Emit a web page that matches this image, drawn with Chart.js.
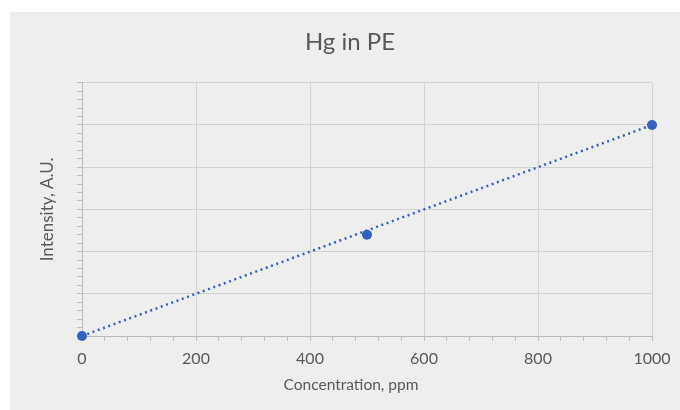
<!DOCTYPE html>
<html>
<head>
<meta charset="utf-8">
<script src="https://cdn.jsdelivr.net/npm/chart.js@4"></script>
<style>
  html, body { margin: 0; padding: 0; background: #ffffff; }
  #wrap { width: 680px; height: 410px; position: relative; }
</style>
</head>
<body>
<div id="wrap"><canvas id="c" width="680" height="410"></canvas></div>
<script>
// ---- data ----
const concentrations = [0, 500, 1000];
const intensities = [0, 2.4, 5.0];
const trendX = [0, 1000];
const trendY = [0, 5.0];
const xLabelValues = [0, 200, 400, 600, 800, 1000];
const titleText = 'Hg in PE';
const xTitle = 'Concentration, ppm';
const yTitle = 'Intensity, A.U.';

const gridColor = '#d2d2d2';
const axisColor = '#bcbcbc';
const textColor = '#595959';
const blue = '#3560c2';
const FONT = 'Lato, "Open Sans", sans-serif';

const bgPlugin = {
  id: 'bg',
  beforeDraw(chart) {
    const ctx = chart.ctx;
    ctx.save();
    ctx.fillStyle = '#eeeeee';
    ctx.fillRect(10, 12, 670, 398);
    ctx.restore();
  }
};

// x-axis title: centred on the chart box (as in the reference), not on the plot
const xTitlePlugin = {
  id: 'xTitle',
  afterDraw(chart) {
    const ctx = chart.ctx;
    ctx.save();
    ctx.fillStyle = textColor;
    ctx.font = '15.5px ' + FONT;
    ctx.textAlign = 'center';
    ctx.textBaseline = 'middle';
    ctx.fillText(xTitle, (chart.width + 22) / 2, 385);
    ctx.restore();
  }
};

const isMultiple = (v, step) => Math.abs(v / step - Math.round(v / step)) < 1e-6;

new Chart(document.getElementById('c'), {
  type: 'scatter',
  data: {
    datasets: [
      {
        label: 'Trend',
        data: trendX.map((x, i) => ({ x: x, y: trendY[i] })),
        showLine: true,
        borderColor: blue,
        borderWidth: 2.5,
        borderDash: [2, 3.6],
        borderCapStyle: 'butt',
        pointRadius: 0,
        pointHoverRadius: 0,
        fill: false,
        clip: false
      },
      {
        label: 'Hg',
        data: concentrations.map((x, i) => ({ x: x, y: intensities[i] })),
        backgroundColor: blue,
        borderColor: blue,
        pointRadius: 5,
        pointBorderWidth: 0,
        clip: false
      }
    ]
  },
  options: {
    responsive: false,
    animation: false,
    events: [],
    layout: { padding: { left: 20, right: 0, top: 0, bottom: 0 } },
    plugins: {
      legend: { display: false },
      tooltip: { enabled: false },
      title: {
        display: true,
        text: titleText,
        color: textColor,
        font: { family: FONT, size: 24, weight: 'normal' },
        padding: { top: 28, bottom: 26 }
      }
    },
    scales: {
      x: {
        type: 'linear',
        min: 0, max: 1000,
        border: { color: axisColor, width: 1 },
        grid: {
          color: (ctx) => (ctx.tick && isMultiple(ctx.tick.value, 200)) ? gridColor : 'rgba(0,0,0,0)',
          tickColor: axisColor,
          tickLength: 5,
          lineWidth: 1
        },
        ticks: {
          stepSize: 40,
          autoSkip: false,
          maxRotation: 0,
          minRotation: 0,
          padding: 8,
          color: textColor,
          font: { family: FONT, size: 16 },
          callback: (v) => xLabelValues.some(t => Math.abs(t - v) < 1e-6) ? String(Math.round(v)) : ''
        },
        title: { display: false },
        afterFit: (scale) => { scale.height = 74; }
      },
      y: {
        type: 'linear',
        min: 0, max: 6,
        border: { color: axisColor, width: 1 },
        grid: {
          color: (ctx) => (ctx.tick && isMultiple(ctx.tick.value, 1)) ? gridColor : 'rgba(0,0,0,0)',
          tickColor: axisColor,
          tickLength: 5,
          lineWidth: 1
        },
        ticks: {
          stepSize: 0.2,
          autoSkip: false,
          display: false
        },
        title: {
          display: true,
          text: yTitle,
          color: textColor,
          font: { family: FONT, size: 17 },
          padding: { top: 17, bottom: 0 }
        },
        afterFit: (scale) => { scale.width = 62; }
      },
      yRight: {
        type: 'linear',
        position: 'right',
        display: true,
        min: 0, max: 6,
        border: { display: false },
        grid: { display: false, drawOnChartArea: false, drawTicks: false },
        ticks: { display: false },
        afterFit: (scale) => { scale.width = 28; }
      }
    }
  },
  plugins: [bgPlugin, xTitlePlugin]
});
</script>
</body>
</html>
